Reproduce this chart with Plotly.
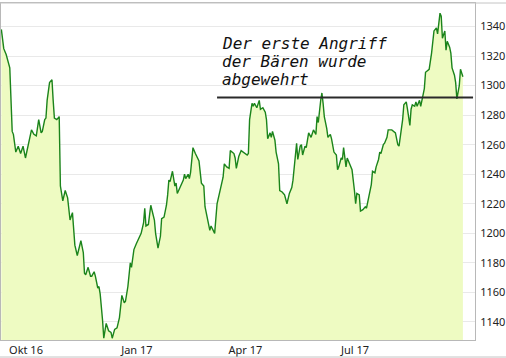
import pandas as pd
import plotly.graph_objects as go

# ---- data (gold price, USD) ----
START_DATE = "2016-10-01"
day_offsets = [
    -8, -6, -4, -2, -1, 1, 2, 4, 6, 8, 10, 12, 15, 17, 19, 21, 23, 25, 26, 28,
    29, 30, 32, 34, 35, 36, 38, 40, 41, 43, 45, 47, 49, 51, 53, 55, 58, 60, 61, 62,
    64, 66, 67, 69, 70, 72, 73, 74, 76, 77, 79, 81, 83, 84, 86, 88, 90, 92, 94, 95,
    97, 99, 100, 102, 104, 106, 108, 110, 111, 112, 114, 116, 119, 120, 122, 124, 125, 127, 129, 130,
    131, 132, 134, 136, 137, 138, 140, 143, 144, 145, 147, 148, 149, 151, 153, 155, 156, 158, 160, 161,
    163, 165, 166, 167, 169, 171, 173, 174, 176, 177, 179, 181, 182, 185, 186, 187, 189, 191, 193, 196,
    197, 198, 200, 201, 202, 204, 206, 207, 209, 211, 212, 213, 215, 216, 217, 219, 220, 222, 223, 225,
    227, 229, 231, 233, 234, 235, 237, 238, 240, 241, 242, 244, 245, 247, 249, 251, 253, 254, 255, 257,
    258, 259, 260, 262, 263, 265, 266, 268, 270, 271, 272, 274, 275, 276, 278, 279, 281, 282, 283, 285,
    286, 287, 289, 290, 292, 294, 295, 297, 299, 300, 302, 303, 305, 306, 307, 309, 310, 312, 313, 314,
    316, 319, 321, 322, 323, 325, 326, 328, 329, 331, 332, 333, 335, 336, 337, 339, 340, 341, 343, 344,
    346, 347, 349, 350, 351, 353, 354, 356, 357, 358, 360, 361, 362, 364, 365, 366, 368, 369, 370, 372,
    373, 375,
]
price = [
    1338, 1325, 1321, 1316, 1312, 1269, 1267, 1255, 1259, 1254, 1259, 1251, 1263, 1270, 1267, 1266, 1277, 1268, 1269, 1277,
    1278, 1290, 1302, 1304, 1290, 1278, 1277, 1279, 1232, 1222, 1229, 1224, 1209, 1214, 1192, 1185, 1195, 1187, 1173, 1172,
    1177, 1171, 1171, 1174, 1171, 1163, 1164, 1159, 1141, 1129, 1139, 1134, 1133, 1129, 1135, 1136, 1143, 1158, 1153, 1154,
    1164, 1180, 1177, 1189, 1193, 1197, 1200, 1207, 1217, 1205, 1206, 1219, 1209, 1200, 1190, 1198, 1210, 1211, 1219, 1226,
    1236, 1235, 1242, 1232, 1234, 1227, 1231, 1236, 1240, 1237, 1240, 1237, 1241, 1258, 1254, 1250, 1249, 1234, 1232, 1218,
    1209, 1202, 1205, 1203, 1200, 1220, 1227, 1229, 1238, 1247, 1245, 1244, 1256, 1254, 1251, 1244, 1252, 1256, 1255, 1253,
    1254, 1277, 1288, 1286, 1288, 1285, 1290, 1284, 1285, 1282, 1277, 1264, 1268, 1265, 1269, 1263, 1255, 1247, 1229, 1228,
    1226, 1220, 1227, 1231, 1236, 1245, 1261, 1250, 1259, 1260, 1253, 1259, 1258, 1268, 1265, 1270, 1267, 1279, 1275, 1290,
    1295, 1288, 1279, 1271, 1265, 1267, 1264, 1255, 1253, 1243, 1245, 1251, 1250, 1258, 1245, 1251, 1247, 1245, 1243, 1229,
    1220, 1227, 1226, 1215, 1216, 1218, 1217, 1225, 1233, 1242, 1241, 1245, 1250, 1255, 1254, 1260, 1261, 1265, 1270, 1270,
    1270, 1268, 1260, 1259, 1265, 1277, 1287, 1289, 1284, 1273, 1284, 1287, 1286, 1289, 1286, 1290, 1286, 1290, 1298, 1309,
    1310, 1311, 1322, 1329, 1337, 1339, 1335, 1349, 1347, 1332, 1337, 1324, 1330, 1326, 1322, 1312, 1307, 1302, 1291, 1300,
    1311, 1306,
]

y_ticks = [1140, 1160, 1180, 1200, 1220, 1240, 1260, 1280, 1300, 1320, 1340]
x_tick_dates = ["2016-10-01", "2017-01-01", "2017-04-01", "2017-07-01"]
x_tick_labels = ["Okt 16", "Jan 17", "Apr 17", "Jul 17"]

note_lines = ["Der erste Angriff", "der Bären wurde", "abgewehrt"]
level_value = 1292
level_start = "2017-03-21"
level_end = "2017-10-19 10:00"

x_range = ["2016-09-22 17:00", "2017-10-21 01:00"]
y_range = [1127.8, 1355.9]

dates = pd.Timestamp(START_DATE) + pd.to_timedelta(day_offsets, unit="D")

fig = go.Figure()
fig.add_trace(go.Scatter(
    x=dates, y=price, mode="lines",
    line=dict(color="#1b841b", width=1.4),
    fill="tozeroy", fillcolor="#eefbc2",
    hoverinfo="skip", showlegend=False,
))

fig.add_shape(type="line", xref="x", yref="y",
              x0=level_start, x1=level_end, y0=level_value, y1=level_value,
              line=dict(color="#2a2a2a", width=2))

# outer frame
frame = dict(color="#c4c4c4", width=1)
fig.add_shape(type="line", xref="paper", yref="paper", x0=-0.003, x1=1.07, y0=1.0, y1=1.0, line=frame)
fig.add_shape(type="line", xref="paper", yref="paper", x0=-0.003, x1=1.07, y0=-0.0505, y1=-0.0505, line=frame)

text_y = [0.880, 0.826, 0.772]
for line_text, ty in zip(note_lines, text_y):
    fig.add_annotation(
        xref="paper", yref="paper", x=0.4645, y=ty, xanchor="left", yanchor="middle",
        text=line_text, showarrow=False, borderpad=0,
        font=dict(family="DejaVu Sans Mono", size=16, color="#111111", style="italic"),
    )

fig.update_layout(
    width=506, height=358,
    margin=dict(l=1, r=31, t=3, b=18),
    paper_bgcolor="white", plot_bgcolor="white",
    font=dict(family="Noto Sans", size=11, color="#222222"),
)
fig.update_xaxes(
    type="date", range=x_range,
    tickvals=x_tick_dates, ticktext=x_tick_labels,
    ticklabelshift=15, ticks="", showgrid=False,
    showline=True, linecolor="#b8b8b8", linewidth=1, mirror=True,
    zeroline=False,
)
fig.update_yaxes(
    side="right", range=y_range, tickvals=y_ticks,
    ticks="", showgrid=True, gridcolor="#e9e9e9", gridwidth=1,
    showline=True, linecolor="#b8b8b8", linewidth=1, mirror=True,
    zeroline=False, ticklabelstandoff=2,
)

fig.write_html(
    "out.html",
    config={"displayModeBar": False},
    post_script="document.body.style.margin='0';document.body.style.padding='0';",
)
